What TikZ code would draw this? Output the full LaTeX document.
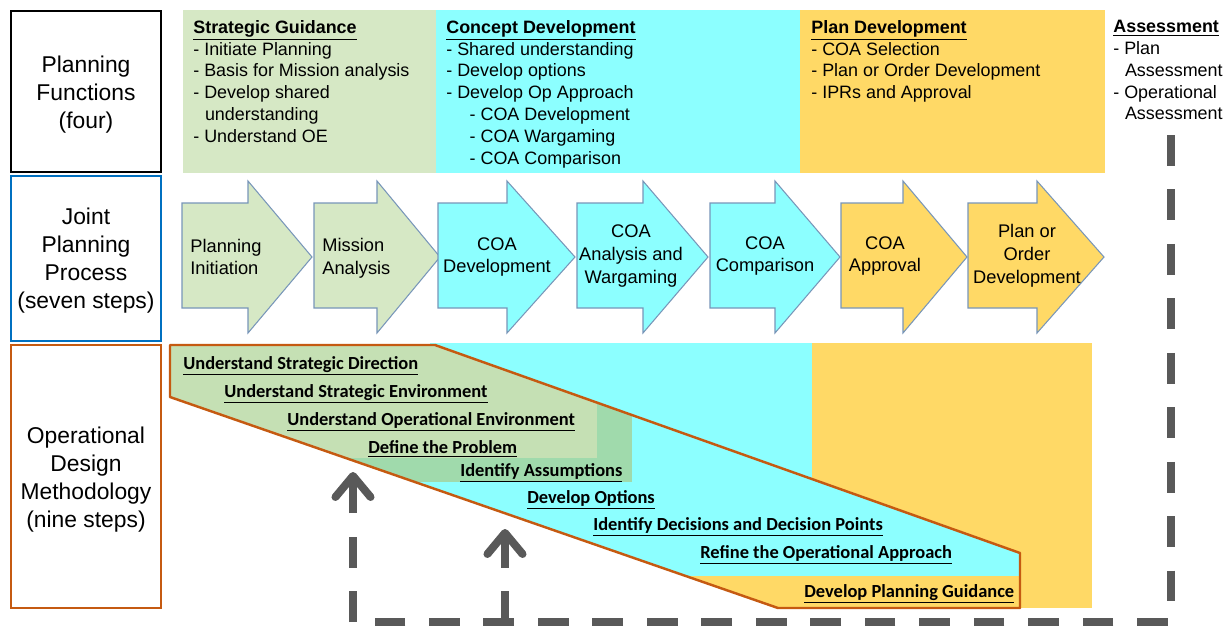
\documentclass[tikz,border=0pt]{standalone}
\usepackage{fontspec}
\setmainfont{Liberation Sans}
\newfontfamily\stepfont{Carlito}
\usetikzlibrary{positioning, arrows.meta}

\definecolor{sgGreen}{RGB}{214,232,197}
\definecolor{cdCyan}{RGB}{140,255,255}
\definecolor{pdYellow}{RGB}{255,217,102}
\definecolor{odGreen}{RGB}{197,224,180}
\definecolor{odMid}{RGB}{160,218,172}
\definecolor{odOrange}{RGB}{197,90,17}
\definecolor{jppBlue}{RGB}{0,112,192}
\definecolor{arrowEdge}{RGB}{120,150,185}
\definecolor{loopGray}{RGB}{89,89,89}

\tikzset{
  rowbox/.style={draw, line width=1.3pt, minimum width=3cm, align=center,
    font=\fontsize{13}{16}\selectfont},
  panel/.style={minimum height=3.26cm, inner sep=0pt, outer sep=0pt},
  fnlist/.style={anchor=north west, align=left, inner sep=0pt,
    font=\fontsize{10.2}{12.4}\selectfont},
  steptext/.style={align=center, inner sep=0pt, font=\fontsize{10.4}{13}\selectfont},
  odstep/.style={anchor=west, inner sep=0pt,
    font=\stepfont\bfseries\fontsize{10.5}{12}\selectfont},
  loopline/.style={draw=loopGray, line width=4.5pt, dash pattern=on 17.5pt off 13.5pt},
  looptip/.style={-{Straight Barb[length=12pt,width=20pt,round]}}
}

\newcommand{\hd}[1]{\textbf{\underline{#1}}}

\begin{document}
\begin{tikzpicture}[x=0.02cm, y=-0.02cm]
\path[fill=white] (0,0) rectangle (1228,627);
\useasboundingbox (0,0) rectangle (1228,627);

% row titles
\node[rowbox, draw=black, minimum height=3.22cm] (pf) at (86,91.5) {\rule{0pt}{12.8pt}Planning\\Functions\\(four)};
\node[rowbox, draw=jppBlue, minimum height=3.3cm, below=0.035cm of pf] (jpp) {\rule{0pt}{12pt}Joint\\Planning\\Process\\(seven steps)};
\node[rowbox, draw=odOrange, minimum height=5.26cm, below=0.035cm of jpp] (odm) {\rule{0pt}{12.8pt}Operational\\Design\\Methodology\\(nine steps)};

% planning functions
\node[panel, fill=sgGreen, minimum width=5.06cm, anchor=north west] (sg) at (183,10) {};
\node[panel, fill=cdCyan, minimum width=7.28cm, right=0pt of sg] (cd) {};
\node[panel, fill=pdYellow, minimum width=6.10cm, right=0pt of cd] (pd) {};

\node[fnlist] (sgtext) at (193,20) {\hd{Strategic Guidance}\\- Initiate Planning\\- Basis for Mission analysis\\- Develop shared\\\hspace*{0.65em}understanding\\- Understand OE};
\node[fnlist] (cdtext) at (446,20) {\hd{Concept Development}\\- Shared understanding\\- Develop options\\- Develop Op Approach\\\hspace*{1.3em}- COA Development\\\hspace*{1.3em}- COA Wargaming\\\hspace*{1.3em}- COA Comparison};
\node[fnlist] (pdtext) at (811,20) {\hd{Plan Development}\\- COA Selection\\- Plan or Order Development\\- IPRs and Approval};
\node[fnlist] (astext) at (1113,20) {\hd{Assessment}\\- Plan\\\hspace*{0.65em}Assessment\\- Operational\\\hspace*{0.65em}Assessment};

% joint planning process arrows
\foreach \l/\h/\t/\c in {182/248/312/sgGreen, 314/377/440/sgGreen, 438/507/575/cdCyan,
  577/643/708/cdCyan, 710/775/840/cdCyan, 841/903/967/pdYellow, 968/1037/1104/pdYellow}
  \draw[arrowEdge, fill=\c, line width=0.6pt] (\l,203) -- (\h,203) -- (\h,181) -- (\t,257)
    -- (\h,333) -- (\h,308) -- (\l,308) -- cycle;

\node[steptext, anchor=west, align=left] (pi) at (190,257) {Planning\\Initiation};
\node[steptext, anchor=west, align=left] (ma) at (322,258) {Mission\\Analysis};
\node[steptext] (cdev) at (497,257) {COA\\Development};
\node[steptext] (cwar) at (631,256) {COA\\Analysis and\\Wargaming};
\node[steptext] (ccomp) at (765,256) {COA\\Comparison};
\node[steptext] (cappr) at (885,256) {COA\\Approval};
\node[steptext] (pod) at (1027,256) {Plan or\\Order\\Development};

% operational design methodology
\fill[cdCyan] (430,343) rectangle (812,482);
\fill[pdYellow] (812,343) rectangle (1092,608);

\coordinate (od1) at (170,345);
\coordinate (od2) at (435,345);
\coordinate (od3) at (1020,553);
\coordinate (od4) at (1020,608);
\coordinate (od5) at (778,608);
\coordinate (od6) at (170,397);
\begin{scope}
  \clip (od1) -- (od2) -- (od3) -- (od4) -- (od5) -- (od6) -- cycle;
  \fill[cdCyan] (170,345) rectangle (1020,608);
  \fill[pdYellow] (170,576) rectangle (1020,608);
  \fill[odMid] (170,345) rectangle (632,482);
  \fill[odGreen] (170,345) rectangle (597,458);
\end{scope}
\draw[odOrange, line width=1.4pt, line join=round] (od1) -- (od2) -- (od3) -- (od4) -- (od5) -- (od6) -- cycle;

\node[odstep] (s1) at (183,366) {\underline{Understand Strategic Direction}};
\node[odstep] (s2) at (224,394) {\underline{Understand Strategic Environment}};
\node[odstep] (s3) at (287,422) {\underline{Understand Operational Environment}};
\node[odstep] (s4) at (368,449) {\underline{Define the Problem}};
\node[odstep] (s5) at (460,473) {\underline{Identify Assumptions}};
\node[odstep] (s6) at (527,500) {\underline{Develop Options}};
\node[odstep] (s7) at (593,527) {\underline{Identify Decisions and Decision Points}};
\node[odstep] (s8) at (700,555) {\underline{Refine the Operational Approach}};
\node[odstep] (s9) at (804,594) {\underline{Develop Planning Guidance}};

% assessment feedback loop
\coordinate (asmt) at (1171,135);
\coordinate (turn) at (1171,622);
\coordinate (foot1) at (353,622);
\coordinate (foot2) at (505,622);
\coordinate (tip1) at (353,472);
\coordinate (tip2) at (505,529);
\draw[loopline] (asmt) -- (turn) -- (foot1);
\draw[loopline, looptip] (foot1) -- (tip1);
\draw[loopline, looptip] (foot2) -- (tip2);
\end{tikzpicture}
\end{document}
